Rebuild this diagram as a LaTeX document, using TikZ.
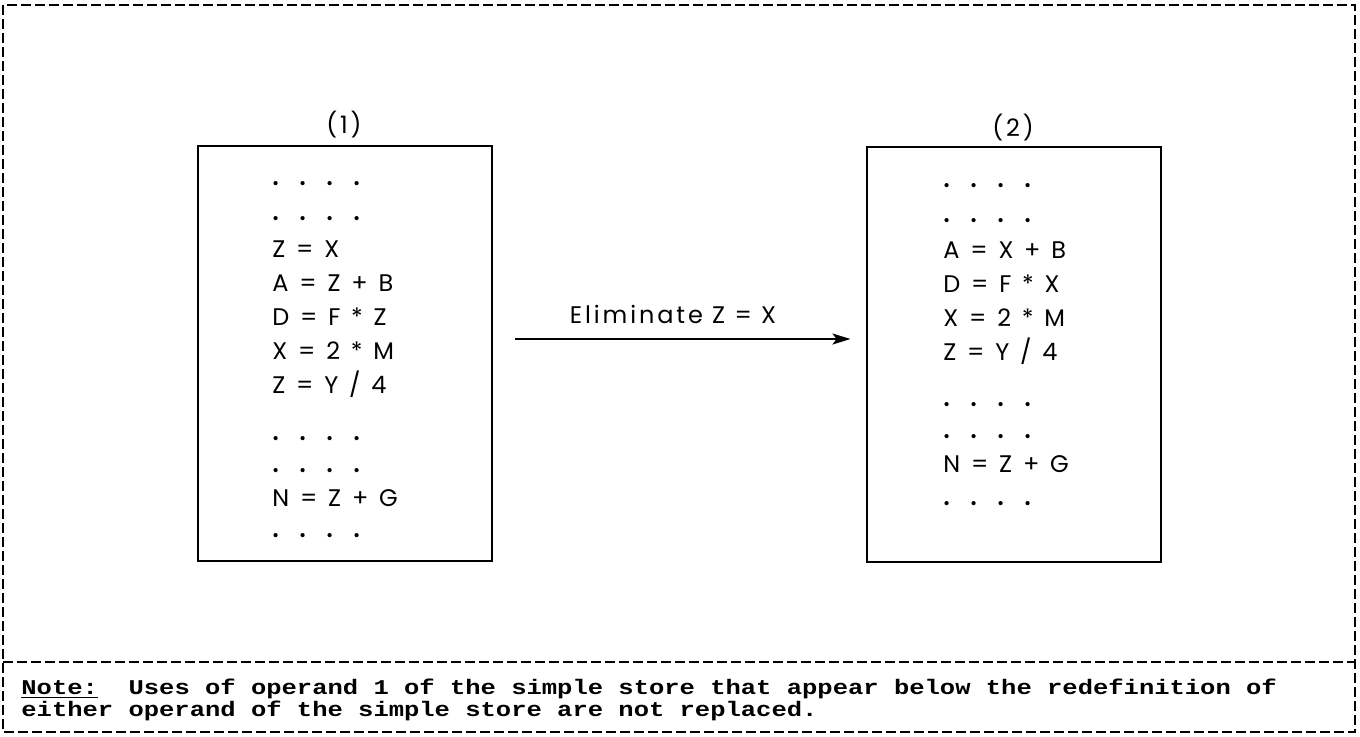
\documentclass[tikz,border=0pt]{standalone}
\usepackage{fontspec}
\usepackage{graphicx}
\newfontfamily\listfont[LetterSpace=12]{Poppins}
\setmonofont{Liberation Mono}
\usetikzlibrary{arrows.meta, positioning}

\newcommand{\dotrow}{{\fontsize{17}{14}\selectfont\makebox[13.5pt][l]{.}\makebox[13.5pt][l]{.}\makebox[13.5pt][l]{.}.}}
\newcommand{\widespace}{\spaceskip 5.4pt\relax}

\begin{document}
\begin{tikzpicture}[x=0.5pt, y=-0.5pt, every node/.style={inner sep=0pt},
  >={Stealth[length=9pt, width=5.5pt, inset=2pt]},
  frameline/.style={line width=0.9pt, dash pattern=on 5pt off 2pt},
  codebox/.style={draw, line width=1pt, minimum width=147pt, minimum height=207.5pt},
  listing/.style={anchor=base west, font=\listfont\fontsize{12}{14}\selectfont},
  coderow/.style={listing, font=\listfont\fontsize{12}{14}\selectfont\widespace},
  notetext/.style={anchor=base west, align=left, font=\ttfamily\bfseries\fontsize{10.5}{9.7}\selectfont}]
  \useasboundingbox (0,0) rectangle (1360,736);
  \draw[frameline] (3,5) rectangle (1355,732);
  \draw[frameline] (3,662) -- (1355,662);

  \node[codebox] (box1) at (344.5,353.5) {};
  \node[codebox] (box2) at (1013.5,354.5) {};
  \node[listing, anchor=base] (t1) at (344,133) {(1)};
  \node[listing, anchor=base] (t2) at (1013,136) {(2)};

  \foreach \y/\txt [count=\i] in {185/\dotrow, 220/\dotrow, 257/{Z = X}, 291/{A = Z + B},
      325/{D = F * Z}, 359/{X = 2 * M}, 393/{Z = Y / 4}, 440/\dotrow, 472/\dotrow,
      506/{N = Z + G}, 537/\dotrow}
    \node[coderow] (l1-\i) at (272,\y) {\txt};

  \foreach \y/\txt [count=\i] in {187/\dotrow, 222/\dotrow, 258/{A = X + B}, 292/{D = F * X},
      326/{X = 2 * M}, 360/{Z = Y / 4}, 406/\dotrow, 438/\dotrow,
      472/{N = Z + G}, 505/\dotrow}
    \node[coderow] (l2-\i) at (943,\y) {\txt};

  \coordinate (elim) at (515,339);
  \draw[->, line width=1pt, shorten >=7.5pt] (elim) -- (elim -| box2.west);
  \node[listing, anchor=base] (lbl) at (673,323) {Eliminate Z = X};

  \node[notetext] (note) at (21,716) {\scalebox{1.215}[1]{\underline{Note:}\ \ Uses of operand 1 of the simple store that appear below the redefinition of}\\
    \scalebox{1.215}[1]{either operand of the simple store are not replaced.}};
\end{tikzpicture}
\end{document}
